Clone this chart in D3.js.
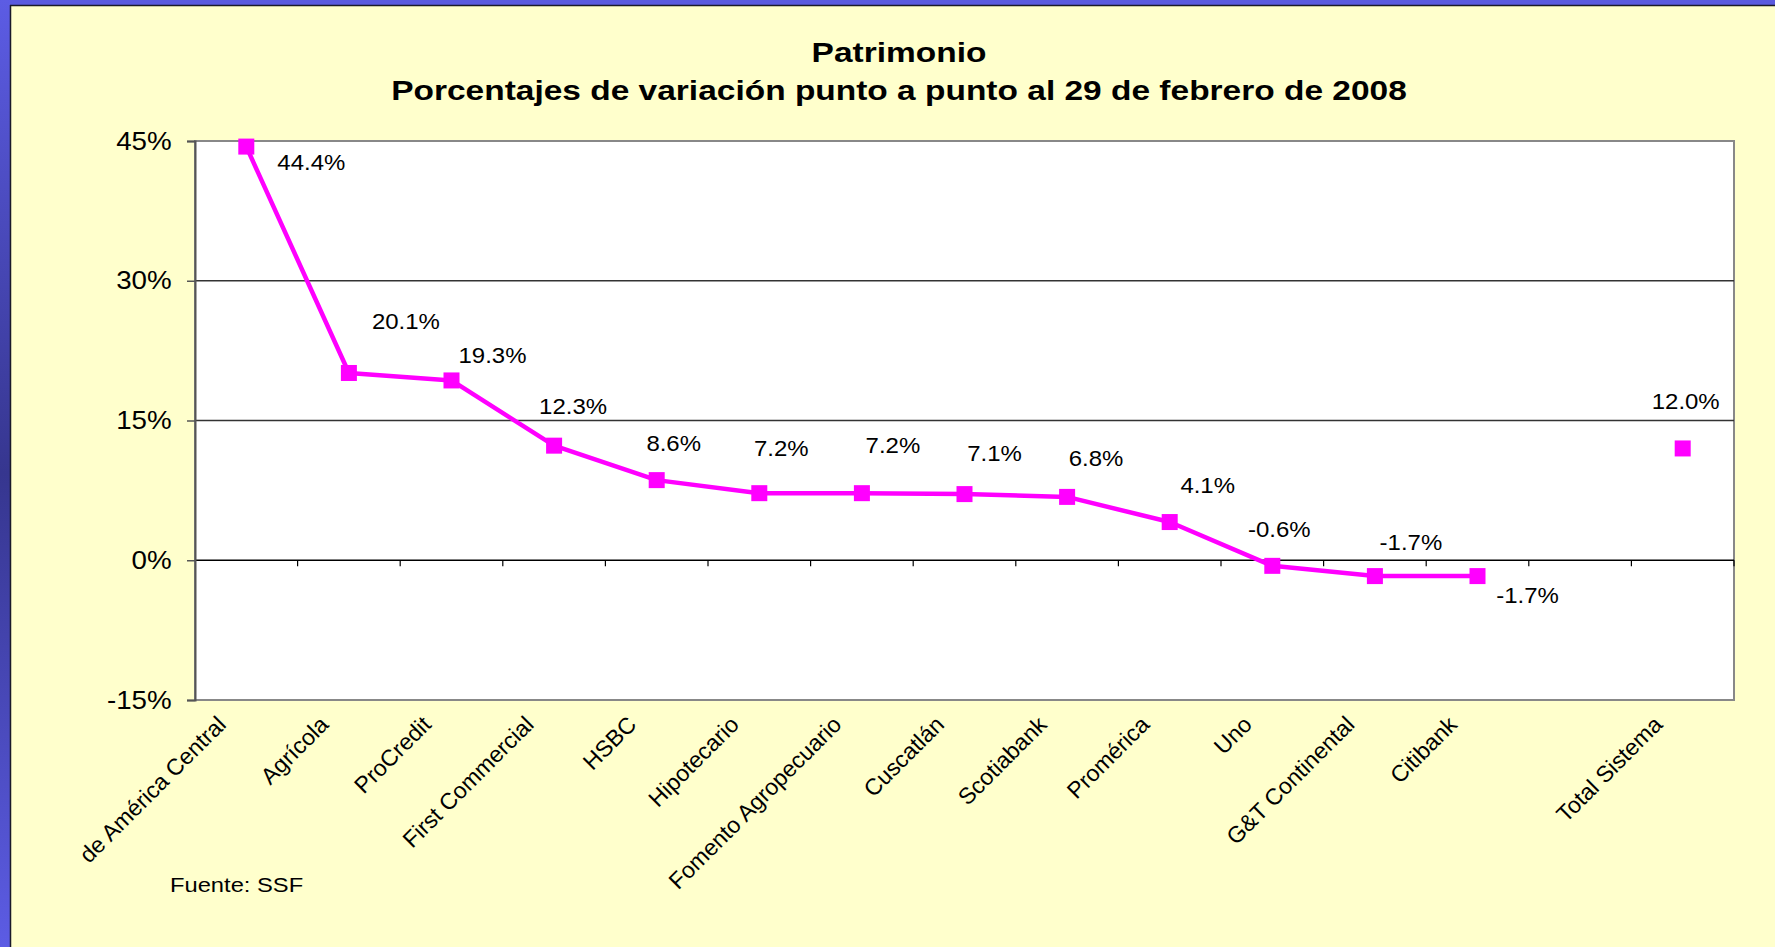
<!DOCTYPE html>
<html>
<head>
<meta charset="utf-8">
<script src="https://cdn.jsdelivr.net/npm/d3@7"></script>
<style>
  html, body { margin: 0; padding: 0; background: #ffffcc; }
  svg { display: block; }
  text { font-family: "Liberation Sans", Arial, sans-serif; fill: #000; }
</style>
</head>
<body>
<svg id="chart" width="1775" height="947"></svg>
<script>
// Patrimonio, variacion punto a punto (%)
const banks = ["de América Central", "Agrícola", "ProCredit", "First Commercial", "HSBC",
  "Hipotecario", "Fomento Agropecuario", "Cuscatlán", "Scotiabank", "Promérica",
  "Uno", "G&T Continental", "Citibank"];
const bankValues = [44.4, 20.1, 19.3, 12.3, 8.6, 7.2, 7.2, 7.1, 6.8, 4.1, -0.6, -1.7, -1.7];
const totalName = "Total Sistema";
const totalValue = 12.0;
const yTicks = [-15, 0, 15, 30, 45];

// hand nudges of the value labels (like Excel's dragged labels), px from the marker
const labelNudge = [[65, 23], [57, -44], [41, -17], [19, -32], [17, -29], [22, -37], [31, -40],
  [30, -33], [29, -31], [38, -29], [7, -29], [36, -26], [50, 27], [3, -39]];

const W = 1775, H = 947;
const plot = {left: 195, right: 1734, top: 141, bottom: 700};

const svg = d3.select("#chart");

// the original slide text is a bit wider than Arial, so stretch it sideways
function wideText(g, x, y, sx) {
  return g.append("text").attr("transform", `translate(${x},${y}) scale(${sx},1)`);
}

// frame: blue bars on top and left
const defs = svg.append("defs");
const grad = defs.append("linearGradient").attr("id", "side")
  .attr("x1", 0).attr("y1", 0).attr("x2", 0).attr("y2", 1);
grad.append("stop").attr("offset", "0%").attr("stop-color", "#5c5ce4");
grad.append("stop").attr("offset", "50%").attr("stop-color", "#36368f");
grad.append("stop").attr("offset", "100%").attr("stop-color", "#5c5ce4");

svg.append("rect").attr("width", W).attr("height", H).attr("fill", "#ffffcc");
svg.append("rect").attr("x", 0).attr("y", 0).attr("width", W).attr("height", 5).attr("fill", "#5a5adf");
svg.append("rect").attr("x", 0).attr("y", 0).attr("width", 10).attr("height", H).attr("fill", "url(#side)");
svg.append("line").attr("x1", 10).attr("x2", W).attr("y1", 5.5).attr("y2", 5.5)
  .attr("stroke", "#1a1a2a").attr("stroke-width", 1.5);
svg.append("line").attr("x1", 10.5).attr("x2", 10.5).attr("y1", 5).attr("y2", H)
  .attr("stroke", "#1a1a2a").attr("stroke-width", 1.5);

// scales
const domain = banks.concat([" ", totalName]);
const x = d3.scaleBand().domain(domain).range([plot.left, plot.right]).padding(0);
const y = d3.scaleLinear().domain([-15, 45]).range([plot.bottom, plot.top]);
const cx = d => x(d) + x.bandwidth() / 2;

// plot area
svg.append("rect")
  .attr("x", plot.left).attr("y", plot.top)
  .attr("width", plot.right - plot.left).attr("height", plot.bottom - plot.top)
  .attr("fill", "#fff").attr("stroke", "#888").attr("stroke-width", 2);

// gridlines
svg.append("g").selectAll("line")
  .data(yTicks.filter(t => t > -15 && t < 45))
  .join("line")
  .attr("x1", plot.left).attr("x2", plot.right)
  .attr("y1", d => y(d)).attr("y2", d => y(d))
  .attr("stroke", d => d === 0 ? "#000" : "#333").attr("stroke-width", 1.3);

// y axis
const yAxis = svg.append("g")
  .attr("transform", `translate(${plot.left},0)`)
  .call(d3.axisLeft(y).tickValues(yTicks).tickFormat(d => d + "%").tickSize(8).tickPadding(13));
yAxis.select(".domain").attr("stroke", "#555").attr("stroke-width", 2);
yAxis.selectAll(".tick line").attr("stroke", "#555").attr("stroke-width", 1.5);
yAxis.selectAll(".tick text").attr("font-size", 25).attr("fill", "#000")
  .attr("font-family", "Liberation Sans, Arial, sans-serif")
  .attr("transform", "scale(1.11,1)");

// category ticks hanging from the zero line
svg.append("g").selectAll("line")
  .data(domain.slice(1).map(d => x(d)).concat([plot.right]))
  .join("line")
  .attr("x1", d => d).attr("x2", d => d)
  .attr("y1", y(0)).attr("y2", y(0) + 6)
  .attr("stroke", "#000").attr("stroke-width", 1.2);

// category labels
svg.append("g").selectAll("text")
  .data(banks.concat([totalName]))
  .join("text")
  .attr("transform", d => `translate(${cx(d) - 19},${plot.bottom + 26}) rotate(-45)`)
  .attr("text-anchor", "end")
  .attr("font-size", 23)
  .text(d => d);

// series
const pts = banks.map((b, i) => ({name: b, v: bankValues[i]}));
const all = pts.concat([{name: totalName, v: totalValue}]);

svg.append("path")
  .datum(pts)
  .attr("fill", "none")
  .attr("stroke", "#ff00ff")
  .attr("stroke-width", 4.5)
  .attr("stroke-linejoin", "round")
  .attr("d", d3.line().x(d => cx(d.name)).y(d => y(d.v)));

const mk = 16;
svg.append("g").selectAll("rect")
  .data(all)
  .join("rect")
  .attr("x", d => cx(d.name) - mk / 2)
  .attr("y", d => y(d.v) - mk / 2)
  .attr("width", mk).attr("height", mk)
  .attr("fill", "#ff00ff");

const valLabels = svg.append("g");
all.forEach((d, i) => {
  wideText(valLabels, cx(d.name) + labelNudge[i][0], y(d.v) + labelNudge[i][1], 1.09)
    .attr("text-anchor", "middle")
    .attr("font-size", 22)
    .text(d.v.toFixed(1) + "%");
});

// titles
wideText(svg, 899, 62, 1.24).attr("text-anchor", "middle")
  .attr("font-size", 27).attr("font-weight", "bold").text("Patrimonio");
wideText(svg, 899, 100, 1.24).attr("text-anchor", "middle")
  .attr("font-size", 27).attr("font-weight", "bold")
  .text("Porcentajes de variación punto a punto al 29 de febrero de 2008");

wideText(svg, 170, 892, 1.13).attr("font-size", 21).text("Fuente: SSF");
</script>
</body>
</html>
